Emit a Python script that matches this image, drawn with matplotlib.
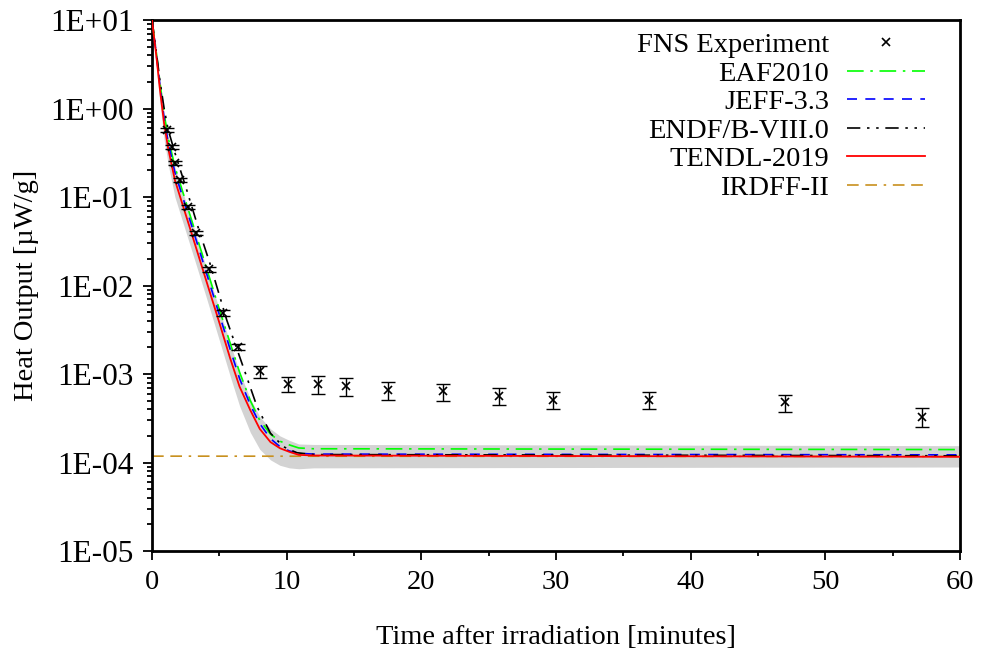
import math
import matplotlib
matplotlib.use("Agg")
import matplotlib.pyplot as plt
from matplotlib.ticker import LogLocator, FixedLocator, NullFormatter, FuncFormatter

plt.rcParams['font.family'] = ['Liberation Serif', 'DejaVu Serif']
FS = 20.5
plt.rcParams['font.size'] = FS

# measured heat output (uW/g)
exp_t = [1.1, 1.45, 1.7, 2.1, 2.7, 3.3, 4.2, 5.3, 6.4, 8.0,
         10.1, 12.3, 14.4, 17.5, 21.6, 25.8, 29.8, 36.9, 47.0, 57.2]
exp_v = [0.57, 0.37, 0.24, 0.155, 0.078, 0.039, 0.0152, 0.0049, 0.00204, 0.00107,
         7.7e-4, 7.7e-4, 7.3e-4, 6.6e-4, 6.4e-4, 5.7e-4, 5.1e-4, 5.1e-4, 4.8e-4, 3.3e-4]
exp_err = [0.03, 0.019, 0.012, 0.008, 0.004, 0.002, 0.0009, 0.00035, 0.00016, 0.00016,
           1.5e-4, 1.7e-4, 1.6e-4, 1.45e-4, 1.4e-4, 1.25e-4, 1.1e-4, 1.1e-4, 1.05e-4, 0.8e-4]

# calculated curves
calc_t = [0, 0.3, 0.6, 0.9, 1.2, 1.7, 3.0, 4.0, 5.0, 5.8, 6.5, 7.3, 8.0, 8.8, 9.5, 10.2, 10.9, 12, 60]
tendl = [10, 4.17, 1.58, 0.676, 0.355, 0.155, 0.0363, 0.0117, 0.0038, 0.00151, 7.2e-4,
         3.9e-4, 2.4e-4, 1.7e-4, 1.45e-4, 1.32e-4, 1.22e-4, 1.2e-4, 1.16e-4]
jeff = [10, 4.37, 1.78, 0.776, 0.417, 0.19, 0.0447, 0.0145, 0.00468, 0.00191, 8.9e-4,
        4.47e-4, 2.75e-4, 1.86e-4, 1.51e-4, 1.35e-4, 1.27e-4, 1.245e-4, 1.22e-4]
eaf = [10, 4.57, 1.91, 0.871, 0.468, 0.219, 0.0513, 0.0166, 0.00537, 0.00224, 0.00105,
       5.0e-4, 3.0e-4, 2.09e-4, 1.74e-4, 1.58e-4, 1.46e-4, 1.43e-4, 1.40e-4]
band_hi = [10, 4.57, 1.91, 0.871, 0.468, 0.219, 0.0513, 0.0166, 0.00537, 0.00224, 0.00105,
           5.25e-4, 3.31e-4, 2.40e-4, 2.0e-4, 1.78e-4, 1.62e-4, 1.60e-4, 1.55e-4]
band_lo = [8.9, 3.16, 1.12, 0.447, 0.234, 0.1, 0.0234, 0.00759, 0.0024, 9.5e-4, 4.37e-4,
           2.19e-4, 1.41e-4, 1.07e-4, 9.3e-5, 8.7e-5, 8.5e-5, 8.7e-5, 8.9e-5]

endf_t = [0, 0.3, 0.6, 0.9, 1.2, 1.7, 2.6, 3.5, 4.3, 5.55, 6.8, 7.8, 8.8, 9.75, 10.75, 12, 60]
endf = [10, 4.57, 2.0, 1.0, 0.575, 0.316, 0.117, 0.0417, 0.0178, 0.00407, 0.00117,
        4.27e-4, 2.14e-4, 1.51e-4, 1.29e-4, 1.23e-4, 1.19e-4]

irdff_t = [0, 60]
irdff = [1.18e-4, 1.17e-4]

y_ticks = [1e-5, 1e-4, 1e-3, 1e-2, 1e-1, 1, 10]
x_ticks = [0, 10, 20, 30, 40, 50, 60]

fig = plt.figure(figsize=(9.82, 6.5), dpi=100)
ax = fig.add_axes([0.1548, 0.1523, 0.8228, 0.8169])

ax.fill_between(calc_t, band_lo, band_hi, color='#d3d3d3', lw=0, zorder=1)

ax.plot(exp_t, exp_v, 'x', color='black', ms=5.5, mew=1.2, label='FNS Experiment', zorder=5)
ax.errorbar(exp_t, exp_v, yerr=exp_err, fmt='none', ecolor='black', elinewidth=1.0,
            capsize=5, capthick=1.0, zorder=5)

ax.plot(calc_t, eaf, color='#00ff00', lw=1.2, dashes=(10, 4, 1.5, 4), label='EAF2010', zorder=3)
ax.plot(calc_t, jeff, color='#0000ff', lw=1.2, dashes=(6, 5), label='JEFF-3.3', zorder=3)
ax.plot(endf_t, endf, color='black', lw=1.2, dashes=(8, 4, 1.5, 4, 1.5, 4), label='ENDF/B-VIII.0', zorder=3)
ax.plot(calc_t, tendl, color='#ff0000', lw=1.3, label='TENDL-2019', zorder=3)
ax.plot(irdff_t, irdff, color='#c8901e', lw=1.2, dashes=(7, 4, 7, 4, 1.5, 4), label='IRDFF-II', zorder=2)

ax.set_yscale('log')
ax.set_xlim(0, 60)
ax.set_ylim(1e-5, 10)

ax.yaxis.set_major_locator(FixedLocator(y_ticks))
ax.yaxis.set_minor_locator(LogLocator(base=10, subs=range(2, 10), numticks=100))
ax.yaxis.set_minor_formatter(NullFormatter())
ax.yaxis.set_major_formatter(FuncFormatter(lambda v, p: '1E%+03d' % round(math.log10(v))))
ax.xaxis.set_major_locator(FixedLocator(x_ticks))
ax.xaxis.set_minor_locator(FixedLocator([5, 15, 25, 35, 45, 55]))

ax.tick_params(which='both', direction='out', top=False, right=False, labelsize=FS, width=1.3)
ax.tick_params(which='major', length=6.5, pad=7)
ax.tick_params(which='minor', length=3.5)
ax.tick_params(axis='y', labelsize=22.5)
for s in ax.spines.values():
    s.set_linewidth(2.0)

ax.set_xlabel('Time after irradiation [minutes]', fontsize=FS, labelpad=22)
ax.set_ylabel('Heat Output [µW/g]', fontsize=FS, labelpad=8)

leg = ax.legend(loc='upper right', markerfirst=False, frameon=False, fontsize=FS,
                handlelength=2.75, handletextpad=0.63, labelspacing=0.09,
                borderpad=0, borderaxespad=0, bbox_to_anchor=(0.957, 0.977))

fig.savefig('out.png', dpi=100)
